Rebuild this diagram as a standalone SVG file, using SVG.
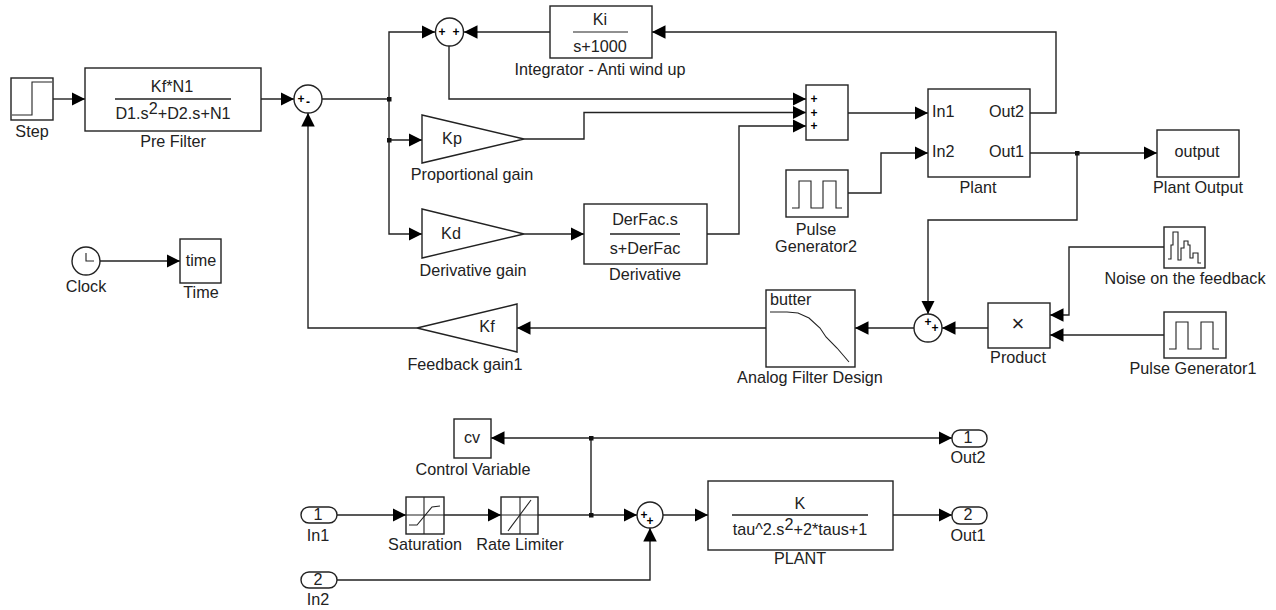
<svg xmlns="http://www.w3.org/2000/svg" width="1276" height="610" viewBox="0 0 1276 610">
<style>
text{font-family:"Liberation Sans",Arial,sans-serif;font-size:16.200px;fill:#222;text-anchor:middle}
.l{text-anchor:start}.e{text-anchor:end}
.s{font-size:12px;font-weight:bold;fill:#000}
.b{fill:#fff;stroke:#222;stroke-width:1.4}
.i{fill:none;stroke:#222;stroke-width:1.1}
.w{fill:none;stroke:#222;stroke-width:1.4;marker-end:url(#a)}
.n{fill:none;stroke:#222;stroke-width:1.4}
.d{fill:#111}
</style>
<defs><marker id="a" markerUnits="userSpaceOnUse" markerWidth="14" markerHeight="14" refX="13.500" refY="7" orient="auto"><path d="M0,0.250L13.500,7L0,13.750z" fill="#000"/></marker></defs>
<rect width="1276" height="610" fill="#fff"/>
<g id="connectors">
<path class="w" d="M53,99H85"/>
<path class="w" d="M261,99H294"/>
<path class="n" d="M322,99H389"/>
<path class="w" d="M389,99V32H435"/>
<path class="w" d="M389,99V140H422"/>
<path class="w" d="M389,140V234H422"/>
<path class="w" d="M550,32H464"/>
<path class="w" d="M449,46V99H806"/>
<path class="w" d="M524,139H584V112.500H806"/>
<path class="w" d="M524,234H584"/>
<path class="w" d="M707,234H739V126H806"/>
<path class="w" d="M848,113H928"/>
<path class="w" d="M848,193H881V153H928"/>
<path class="w" d="M1030,113H1056V32H652"/>
<path class="w" d="M1030,153H1157"/>
<path class="w" d="M1077,153V220H928V314"/>
<path class="w" d="M1164,247H1069V315H1050"/>
<path class="w" d="M1164,335H1050"/>
<path class="w" d="M988,328H942"/>
<path class="w" d="M914,328H855"/>
<path class="w" d="M766,328H517"/>
<path class="w" d="M417,328H308V113"/>
<path class="w" d="M100,261H180"/>
<path class="w" d="M337,515H406"/>
<path class="w" d="M444,515H501"/>
<path class="w" d="M538,515H637"/>
<path class="w" d="M591,515V438H491"/>
<path class="w" d="M591,438H952"/>
<path class="w" d="M337,580H650V528"/>
<path class="w" d="M663,515H708"/>
<path class="w" d="M893,515H952"/>
<rect class="d" x="387" y="97" width="4.500" height="4.500"/>
<rect class="d" x="387" y="138" width="4.500" height="4.500"/>
<rect class="d" x="1075" y="151" width="4.500" height="4.500"/>
<rect class="d" x="589" y="436" width="4.500" height="4.500"/>
<rect class="d" x="589" y="513" width="4.500" height="4.500"/>
</g>
<g id="step"><rect class="b" x="11" y="78" width="42" height="42"/><path class="i" d="M12,115H32V82H52"/><text x="32" y="137">Step</text></g>
<g id="prefilter"><rect class="b" x="85" y="68" width="176" height="63"/><text x="172" y="92">Kf*N1</text><path class="n" d="M115,99H231"/><text x="173" y="119">D1.s<tspan dy="-5">2</tspan><tspan dy="5">+D2.s+N1</tspan></text><text x="173" y="147">Pre Filter</text></g>
<g id="sum-main"><circle class="b" cx="308" cy="99" r="14"/><text class="s" x="301" y="103">+</text><text class="s" x="308" y="106">-</text></g>
<g id="sum-int"><circle class="b" cx="449.500" cy="32" r="14"/><text class="s" x="442" y="36">+</text><text class="s" x="456" y="36">+</text></g>
<g id="integrator"><rect class="b" x="550" y="6" width="102" height="52"/><text x="600" y="25">Ki</text><path class="i" d="M573,32H628"/><text x="600" y="52">s+1000</text><text x="600" y="75">Integrator - Anti wind up</text></g>
<g id="kp"><path class="b" d="M422,115L524,139L422,163z"/><text x="452" y="144">Kp</text><text x="472" y="180">Proportional gain</text></g>
<g id="kd"><path class="b" d="M422,209L524,234L422,258z"/><text x="451" y="239">Kd</text><text x="473" y="276">Derivative gain</text></g>
<g id="derivative"><rect class="b" x="584" y="204" width="123" height="60"/><text x="645" y="225">DerFac.s</text><path class="n" d="M610,234H680"/><text x="645" y="254">s+DerFac</text><text x="645" y="280">Derivative</text></g>
<g id="sum-box"><rect class="b" x="806" y="85" width="42" height="55"/><text class="s" x="814" y="103">+</text><text class="s" x="814" y="116.500">+</text><text class="s" x="814" y="130">+</text></g>
<g id="pulse2"><rect class="b" x="786" y="170" width="62" height="47"/><path class="i" d="M792,208H799V181H811V208H823V181H836V208H842"/><text x="816" y="235">Pulse</text><text x="816" y="252">Generator2</text></g>
<g id="plant"><rect class="b" x="928" y="89" width="102" height="88"/><text class="l" x="932" y="117">In1</text><text class="e" x="1024" y="117">Out2</text><text class="l" x="932" y="157">In2</text><text class="e" x="1024" y="157">Out1</text><text x="978" y="193">Plant</text></g>
<g id="output"><rect class="b" x="1157" y="130" width="82" height="47"/><text x="1197" y="157">output</text><text x="1198" y="193">Plant Output</text></g>
<g id="noise"><rect class="b" x="1164" y="227" width="41" height="41"/><path class="i" d="M1168,259H1171V245H1173V232H1178V260H1181V248H1184V241H1188V245H1190V258H1193V253H1198V263H1201"/><text x="1185" y="284">Noise on the feedback</text></g>
<g id="pulse1"><rect class="b" x="1164" y="312" width="62" height="46"/><path class="i" d="M1169,349H1176V322H1188V349H1201V322H1213V349H1219"/><text x="1193" y="374">Pulse Generator1</text></g>
<g id="product"><rect class="b" x="988" y="303" width="62" height="45"/><text x="1018" y="331" style="font-size:22px">×</text><text x="1018" y="363">Product</text></g>
<g id="sum-fb"><circle class="b" cx="928" cy="328" r="14"/><text class="s" x="928" y="326">+</text><text class="s" x="935" y="332">+</text></g>
<g id="filter"><rect class="b" x="766" y="290" width="89" height="77"/><text class="l" x="770" y="305">butter</text><path class="i" d="M770,312H787L798,313L809,318L820,328L826,337L837,348L849,362"/><text x="810" y="383">Analog Filter Design</text></g>
<g id="kf"><path class="b" d="M517,304L417,328L517,352z"/><text x="487" y="332">Kf</text><text x="465" y="370">Feedback gain1</text></g>
<g id="clock"><circle class="b" cx="86" cy="261" r="14"/><path class="i" d="M86,253V261H94"/><text x="86" y="292">Clock</text></g>
<g id="time"><rect class="b" x="180" y="239" width="41" height="44"/><text x="201" y="266">time</text><text x="201" y="298">Time</text></g>
<g id="cv"><rect class="b" x="454" y="419" width="37" height="39"/><text x="472" y="443">cv</text><text x="473" y="475">Control Variable</text></g>
<g id="in1"><rect class="b" x="301" y="507" width="36" height="16" rx="8"/><text x="318" y="520">1</text><text x="318" y="541">In1</text></g>
<g id="in2"><rect class="b" x="301" y="572" width="36" height="16" rx="8"/><text x="318" y="585">2</text><text x="318" y="605">In2</text></g>
<g id="saturation"><rect class="b" x="406" y="497" width="38" height="37"/><path class="i" d="M406,515H444M424,497V534"/><path class="i" d="M409,525H417L432,507L440,506"/><text x="425" y="550">Saturation</text></g>
<g id="rate"><rect class="b" x="501" y="497" width="37" height="37"/><path class="i" d="M501,515H538M520,497V534"/><path class="i" d="M508,531L531,500"/><text x="520" y="550">Rate Limiter</text></g>
<g id="sum-plant"><circle class="b" cx="650" cy="515" r="13"/><text class="s" x="644" y="519">+</text><text class="s" x="650" y="525">+</text></g>
<g id="plant-tf"><rect class="b" x="708" y="481" width="185" height="69"/><text x="800" y="509">K</text><path class="n" d="M732,515H868"/><text x="800" y="535">tau^2.s<tspan dy="-5">2</tspan><tspan dy="5">+2*taus+1</tspan></text><text x="800" y="564">PLANT</text></g>
<g id="out2"><rect class="b" x="952" y="430" width="35" height="17" rx="8"/><text x="968" y="443">1</text><text x="968" y="463">Out2</text></g>
<g id="out1"><rect class="b" x="952" y="507" width="35" height="17" rx="8"/><text x="968" y="520">2</text><text x="968" y="541">Out1</text></g>
</svg>
